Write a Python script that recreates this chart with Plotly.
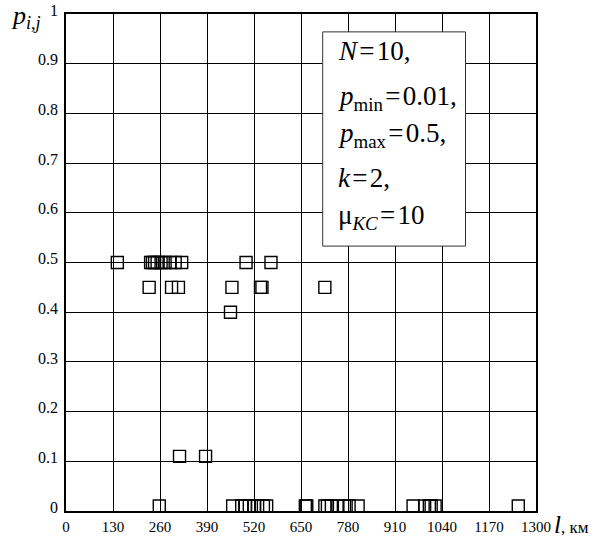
import plotly.graph_objects as go

# distances l (km) grouped by probability level p_ij
p_levels = [0.5, 0.45, 0.4, 0.11, 0.01]
l_050 = [142, 234, 239, 245, 252, 263, 274, 288, 302, 320, 498, 567]
l_045 = [230, 292, 311, 459, 538, 542, 716]
l_040 = [455]
l_011 = [314, 386]
l_001 = [258, 461, 486, 496, 507, 521, 530, 546, 555,
         662, 666, 716, 723, 734, 752, 770, 783, 808,
         960, 992, 1005, 1010, 1021, 1251]

x_ticks = [0, 130, 260, 390, 520, 650, 780, 910, 1040, 1170, 1300]
y_ticks = [0, 0.1, 0.2, 0.3, 0.4, 0.5, 0.6, 0.7, 0.8, 0.9, 1]

params = [
    "<i>N</i>\u200a=\u200a10,",
    "<i>p</i><sub>min</sub>\u200a=\u200a0.01,",
    "<i>p</i><sub>max</sub>\u200a=\u200a0.5,",
    "<i>k</i>\u200a=\u200a2,",
    "\u03bc<sub><i>KC</i></sub>\u200a=\u200a10",
]
param_y = [0.926, 0.830, 0.756, 0.671, 0.591]

FONT = "Liberation Serif, Times New Roman, serif"

xs, ys = [], []
for p, ls in zip(p_levels, [l_050, l_045, l_040, l_011, l_001]):
    xs += ls
    ys += [p] * len(ls)

fig = go.Figure(go.Scatter(
    x=xs, y=ys, mode='markers',
    marker=dict(symbol='square-open', size=12, color='black',
                line=dict(color='black', width=1.4)),
    cliponaxis=False, showlegend=False,
))

# parameter box
fig.add_shape(type='rect', xref='x', yref='y',
              x0=710, x1=1105, y0=0.533, y1=0.964,
              fillcolor='white', line=dict(color='#333', width=1),
              layer='above')
for txt, yy in zip(params, param_y):
    fig.add_annotation(x=748, y=yy, xref='x', yref='y', text=txt,
                       showarrow=False, xanchor='left', yanchor='middle',
                       font=dict(family=FONT, size=27, color='black'))

# axis titles
fig.add_annotation(x=-0.122, y=0.994, xref='paper', yref='paper',
                   text="<i>p</i><sub><i>i,j</i></sub>", showarrow=False,
                   xanchor='left', yanchor='middle',
                   font=dict(family=FONT, size=26, color='black'))
fig.add_annotation(x=1.034, y=-0.027, xref='paper', yref='paper',
                   text="<i><span style='font-size:25px'>l</span></i>, км",
                   showarrow=False, xanchor='left', yanchor='middle',
                   font=dict(family=FONT, size=17, color='black'))

axis_common = dict(showgrid=True, gridcolor='black', gridwidth=1,
                   showline=True, linecolor='black', linewidth=1.5,
                   mirror=True, ticks='', zeroline=False)

fig.update_layout(
    width=608, height=539,
    margin=dict(l=66, r=72, t=14, b=28, autoexpand=False),
    paper_bgcolor='white', plot_bgcolor='white',
    xaxis=dict(range=[0, 1300], tickvals=x_ticks,
               ticktext=[str(v) for v in x_ticks],
               ticklabelstandoff=1,
               tickfont=dict(family=FONT, size=15, color='black'),
               **axis_common),
    yaxis=dict(range=[0, 1], tickvals=y_ticks,
               ticktext=[f'{v:g}' for v in y_ticks],
               ticklabelstandoff=3, ticklabelshift=-4,
               tickfont=dict(family=FONT, size=16, color='black'),
               **axis_common),
)

# drop the default 8px page margin so the figure sits at the window corner
fig.write_html("out.html", config={'displayModeBar': False},
               post_script="document.body.style.margin='0';")
